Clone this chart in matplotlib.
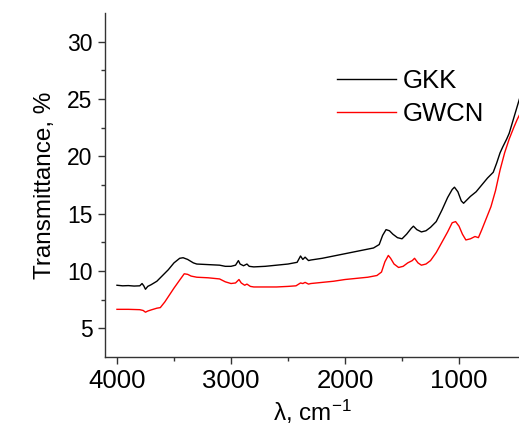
import matplotlib.pyplot as plt

plt.rcParams['font.family'] = ['Liberation Sans', 'DejaVu Sans']
plt.rcParams['mathtext.fontset'] = 'custom'
plt.rcParams['mathtext.rm'] = 'Liberation Sans'
plt.rcParams['mathtext.it'] = 'Liberation Sans:italic'

# GKK spectrum (wavenumber, transmittance)
gkk_x = [4000, 3950, 3900, 3850, 3800, 3780, 3765, 3750, 3730, 3700, 3650, 3600, 3550,
         3500, 3450, 3420, 3380, 3330, 3300, 3200, 3100, 3050, 3000, 2960, 2935, 2920,
         2890, 2860, 2840, 2800, 2700, 2600, 2500, 2420, 2390, 2370, 2350, 2320, 2300,
         2200, 2100, 2000, 1900, 1800, 1750, 1700, 1670, 1640, 1610, 1580, 1540, 1500,
         1460, 1420, 1400, 1370, 1330, 1290, 1250, 1200, 1150, 1100, 1060, 1040, 1010,
         980, 960, 930, 900, 850, 800, 750, 700, 670, 640, 617, 582, 560, 530, 500, 470]
gkk_y = [8.75, 8.7, 8.72, 8.68, 8.7, 8.9, 8.7, 8.4, 8.65, 8.8, 9.1, 9.6, 10.1,
         10.7, 11.1, 11.15, 11.0, 10.7, 10.6, 10.55, 10.5, 10.4, 10.4, 10.5, 10.9, 10.6,
         10.45, 10.6, 10.4, 10.35, 10.4, 10.5, 10.6, 10.75, 11.3, 11.0, 11.2, 10.9, 10.95,
         11.1, 11.3, 11.5, 11.7, 11.9, 12.0, 12.3, 13.1, 13.6, 13.5, 13.2, 12.9, 12.8,
         13.2, 13.7, 13.9, 13.6, 13.4, 13.5, 13.8, 14.3, 15.3, 16.4, 17.1, 17.3, 16.9,
         16.1, 15.9, 16.2, 16.5, 16.9, 17.5, 18.1, 18.6, 19.4, 20.3, 20.8, 21.5, 22.0,
         23.0, 24.0, 25.0]

# GWCN spectrum
gwcn_x = [4000, 3900, 3800, 3770, 3750, 3730, 3700, 3650, 3620, 3580, 3540, 3500, 3450,
          3410, 3380, 3350, 3300, 3200, 3100, 3050, 3000, 2960, 2930, 2910, 2880, 2860,
          2830, 2800, 2700, 2600, 2500, 2430, 2390, 2370, 2350, 2320, 2300, 2200, 2100,
          2000, 1900, 1800, 1720, 1680, 1650, 1620, 1600, 1570, 1530, 1490, 1450, 1410,
          1390, 1360, 1330, 1290, 1250, 1200, 1150, 1100, 1060, 1030, 1000, 970, 940,
          900, 860, 830, 800, 760, 720, 680, 640, 600, 560, 520, 490, 470]
gwcn_y = [6.65, 6.65, 6.62, 6.55, 6.4, 6.5, 6.6, 6.75, 6.8, 7.3, 7.9, 8.5, 9.2,
          9.75, 9.7, 9.55, 9.45, 9.4, 9.3, 9.05, 8.9, 8.95, 9.25, 8.95, 8.75, 8.85,
          8.65, 8.6, 8.6, 8.6, 8.65, 8.7, 8.95, 8.9, 9.0, 8.85, 8.9, 9.0, 9.1,
          9.25, 9.35, 9.45, 9.6, 9.9, 10.8, 11.35, 11.1, 10.6, 10.3, 10.4, 10.7, 10.9,
          11.1, 10.7, 10.5, 10.6, 10.9, 11.6, 12.5, 13.4, 14.2, 14.3, 13.9, 13.2, 12.7,
          12.8, 13.0, 12.9, 13.6, 14.6, 15.6, 17.0, 18.8, 20.3, 21.5, 22.5, 23.2, 23.6]

fig = plt.figure(figsize=(5.19, 4.29), dpi=100)
ax = fig.add_axes([0.2023, 0.168, 0.7977, 0.802])

ax.plot(gkk_x, gkk_y, color='black', lw=1.0, label='GKK')
ax.plot(gwcn_x, gwcn_y, color='red', lw=1.0, label='GWCN')

ax.set_xlim(4105, 474)
ax.set_ylim(2.5, 32.5)
ax.set_xticks([4000, 3000, 2000, 1000])
ax.set_xticks([3500, 2500, 1500], minor=True)
ax.set_yticks([5, 10, 15, 20, 25, 30])
ax.set_yticks([7.5, 12.5, 17.5, 22.5, 27.5], minor=True)

for s in ['top', 'right']:
    ax.spines[s].set_visible(False)
for s in ['left', 'bottom']:
    ax.spines[s].set_color('#333333')
    ax.spines[s].set_linewidth(1.0)
ax.tick_params(which='major', direction='out', length=5, width=1, color='#333333', pad=4)
ax.tick_params(which='minor', direction='out', length=3, width=1, color='#333333')
ax.tick_params(axis='x', which='major', labelsize=18.5)
ax.tick_params(axis='y', which='major', labelsize=16.5)

ax.set_xlabel('λ, cm$^{-1}$', fontsize=17.5, labelpad=3)
ax.set_ylabel('Transmittance, %', fontsize=17.5, labelpad=8)

ax.legend(loc='upper left', bbox_to_anchor=(0.56, 0.836), frameon=False, fontsize=18.5,
          handlelength=2.3, handletextpad=0.27, labelspacing=0.32,
          borderpad=0, borderaxespad=0)

fig.savefig('out.png', dpi=100)
